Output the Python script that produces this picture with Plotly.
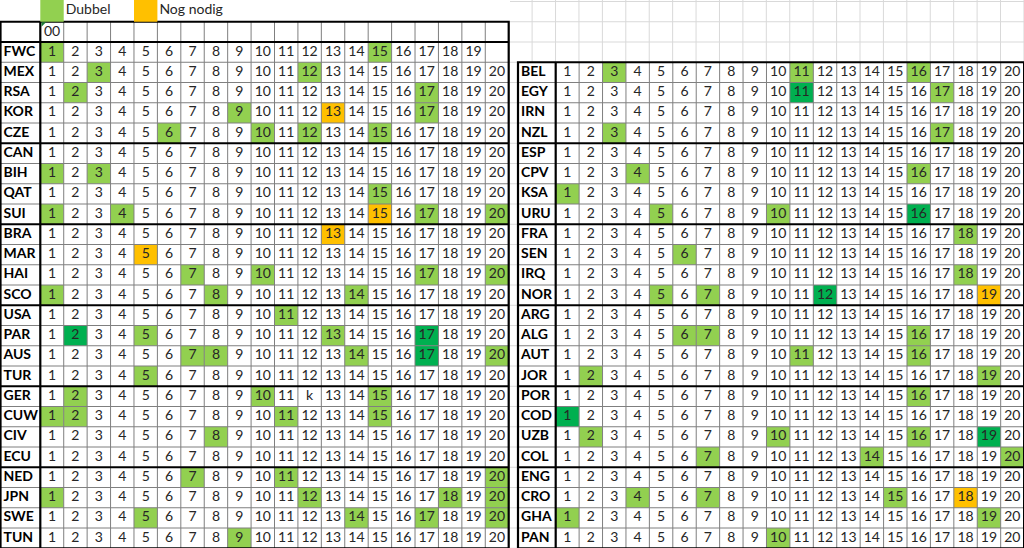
import plotly.graph_objects as go

# ---- data ----
left_rows = ["FWC","MEX","RSA","KOR","CZE","CAN","BIH","QAT","SUI","BRA","MAR","HAI","SCO",
             "USA","PAR","AUS","TUR","GER","CUW","CIV","ECU","NED","JPN","SWE","TUN"]
right_rows = ["BEL","EGY","IRN","NZL","ESP","CPV","KSA","URU","FRA","SEN","IRQ","NOR",
              "ARG","ALG","AUT","JOR","POR","COD","UZB","COL","ENG","CRO","GHA","PAN"]
numbers = list(range(1, 21))
# g = dubbel (light green), d = dark green, o = nog nodig (orange)
left_marks = {
 "FWC":{1:"g",15:"g"}, "MEX":{3:"g",12:"g"}, "RSA":{2:"g",17:"g"},
 "KOR":{9:"g",13:"o",17:"g"}, "CZE":{6:"g",10:"g",12:"g",15:"g"}, "CAN":{},
 "BIH":{1:"g",3:"g"}, "QAT":{15:"g"}, "SUI":{1:"g",4:"g",15:"o",17:"g",20:"g"},
 "BRA":{13:"o"}, "MAR":{5:"o"}, "HAI":{7:"g",10:"g",17:"g",20:"g"},
 "SCO":{1:"g",8:"g",14:"g"}, "USA":{11:"g"}, "PAR":{2:"d",5:"g",13:"g",17:"d"},
 "AUS":{7:"g",8:"g",14:"g",17:"d",20:"g"}, "TUR":{5:"g"}, "GER":{2:"g",10:"g",15:"g"},
 "CUW":{1:"g",2:"g",11:"g",15:"g"}, "CIV":{8:"g"}, "ECU":{}, "NED":{7:"g",11:"g",20:"g"},
 "JPN":{1:"g",12:"g",18:"g",20:"g"}, "SWE":{5:"g",14:"g",17:"g",20:"g"}, "TUN":{9:"g"},
}
right_marks = {
 "BEL":{3:"g",11:"g",16:"g"}, "EGY":{11:"d",17:"g"}, "IRN":{}, "NZL":{3:"g",17:"g"},
 "ESP":{}, "CPV":{4:"g",16:"g"}, "KSA":{1:"g"}, "URU":{5:"g",10:"g",16:"d"},
 "FRA":{18:"g"}, "SEN":{6:"g"}, "IRQ":{18:"g"}, "NOR":{5:"g",7:"g",12:"d",19:"o"},
 "ARG":{}, "ALG":{6:"g",7:"g",16:"g"}, "AUT":{11:"g",16:"g"}, "JOR":{2:"g",19:"g"},
 "POR":{16:"g"}, "COD":{1:"d"}, "UZB":{2:"g",10:"g",16:"g",19:"d"},
 "COL":{7:"g",14:"g",20:"g"}, "ENG":{}, "CRO":{4:"g",7:"g",15:"g",18:"o"},
 "GHA":{1:"g",19:"g"}, "PAN":{10:"g"},
}
text_override = {("GER", 12): "k"}
legend_items = [("g", "Dubbel"), ("o", "Nog nodig")]

colors = {"g": "#92D050", "d": "#00B050", "o": "#FFC000"}
FONT = "Lato, Liberation Sans, sans-serif"

W = 23.42
RH = 20.25
TOP = 42.0
tables = [
    dict(rows=left_rows, marks=left_marks, lab0=0.5, x0=40.3, r0=0),
    dict(rows=right_rows, marks=right_marks, lab0=518.0, x0=555.7, r0=1),
]

fig = go.Figure()
shapes = []

# faint excel gridlines in background
for i in range(-2, 45):
    x = 40.3 + i * W
    shapes.append(dict(type="line", x0=x, x1=x, y0=0, y1=548, line=dict(color="#D9D9D9", width=1), layer="below"))
for j in range(0, 28):
    y = TOP - 2 * RH + j * RH
    shapes.append(dict(type="line", x0=0, x1=1024, y0=y, y1=y, line=dict(color="#D9D9D9", width=1), layer="below"))

def ytop(r):
    return TOP + r * RH

for t in tables:
    rows, marks, x0, r0, lab0 = t["rows"], t["marks"], t["x0"], t["r0"], t["lab0"]
    xend = x0 + 20 * W
    ystart = ytop(r0)
    yend = ytop(r0 + len(rows))
    bg_top = ytop(-1) if r0 == 0 else ystart
    shapes.append(dict(type="rect", x0=lab0, x1=xend, y0=bg_top, y1=yend, fillcolor="white", line=dict(width=0), layer="below"))
    xs, ys, ts = [], [], []
    lx, ly, lt = [], [], []
    for ri, name in enumerate(rows):
        r = r0 + ri
        yc = ytop(r) + RH / 2
        lx.append(lab0 + 3); ly.append(yc); lt.append(name)
        maxn = 19 if name == "FWC" else 20
        for n in numbers:
            if n > maxn:
                continue
            k = marks[name].get(n)
            if k:
                shapes.append(dict(type="rect", x0=x0 + (n - 1) * W, x1=x0 + n * W, y0=ytop(r), y1=ytop(r + 1),
                                   fillcolor=colors[k], line=dict(width=0), layer="below"))
            xs.append(x0 + (n - 0.5) * W); ys.append(yc)
            ts.append(text_override.get((name, n), str(n)))
    for n in range(1, 20):
        x = x0 + n * W
        shapes.append(dict(type="line", x0=x, x1=x, y0=bg_top, y1=yend, line=dict(color="#7F7F7F", width=1)))
    for ri in range(1, len(rows)):
        y = ytop(r0 + ri)
        if r0 == 0:
            thick = ri > 1 and (ri - 1) % 4 == 0
        else:
            thick = ri % 4 == 0
        shapes.append(dict(type="line", x0=lab0, x1=xend, y0=y, y1=y,
                           line=dict(color="#000000" if thick else "#7F7F7F", width=2.2 if thick else 1)))
    if r0 == 0:
        shapes.append(dict(type="line", x0=lab0, x1=xend, y0=ystart, y1=ystart, line=dict(color="#000", width=2.2)))
    shapes.append(dict(type="line", x0=x0, x1=x0, y0=bg_top, y1=yend, line=dict(color="#000", width=2.2)))
    shapes.append(dict(type="rect", x0=lab0, x1=xend, y0=bg_top, y1=yend, line=dict(color="#000", width=2.2)))
    fig.add_trace(go.Scatter(x=xs, y=ys, text=ts, mode="text", textposition="middle center",
                             textfont=dict(family=FONT, size=14, color="#262626"), hoverinfo="skip"))
    fig.add_trace(go.Scatter(x=lx, y=ly, text=lt, mode="text", textposition="middle right",
                             textfont=dict(family=FONT, size=14, color="#000", weight="bold"), hoverinfo="skip"))

# "00" header row
fig.add_trace(go.Scatter(x=[40.3 + 0.5 * W], y=[ytop(-1) + RH / 2 + 1], text=["00"], mode="text",
                         textfont=dict(family=FONT, size=14, color="#262626"), hoverinfo="skip"))
shapes.append(dict(type="path", path="M 41.5 %f L 46 %f L 41.5 %f Z" % (ytop(-1) + 0.5, ytop(-1) + 0.5, ytop(-1) + 5),
                   fillcolor="#1E7B34", line=dict(width=0)))

# legend row
leg_y0, leg_y1 = 0, ytop(-1)
shapes.append(dict(type="rect", x0=0, x1=510, y0=leg_y0, y1=leg_y1, fillcolor="white", line=dict(width=0), layer="below"))
leg_cols = [1, 5]
for (k, label), c in zip(legend_items, leg_cols):
    shapes.append(dict(type="rect", x0=40.3 + (c - 1) * W, x1=40.3 + c * W, y0=leg_y0, y1=leg_y1,
                       fillcolor=colors[k], line=dict(width=0)))
fig.add_trace(go.Scatter(x=[40.3 + 1 * W + 2, 40.3 + 5 * W + 2], y=[leg_y1 / 2, leg_y1 / 2],
                         text=[l for _, l in legend_items], mode="text", textposition="middle right",
                         textfont=dict(family=FONT, size=14, color="#262626"), hoverinfo="skip"))

fig.update_layout(
    width=1024, height=548, margin=dict(l=0, r=0, t=0, b=0),
    paper_bgcolor="white", plot_bgcolor="white", showlegend=False, shapes=shapes,
    xaxis=dict(range=[0, 1024], visible=False, fixedrange=True),
    yaxis=dict(range=[548, 0], visible=False, fixedrange=True),
)
fig.write_html("out.html", config={"displayModeBar": False},
               post_script="document.body.style.margin='0';document.body.style.overflow='hidden';")
